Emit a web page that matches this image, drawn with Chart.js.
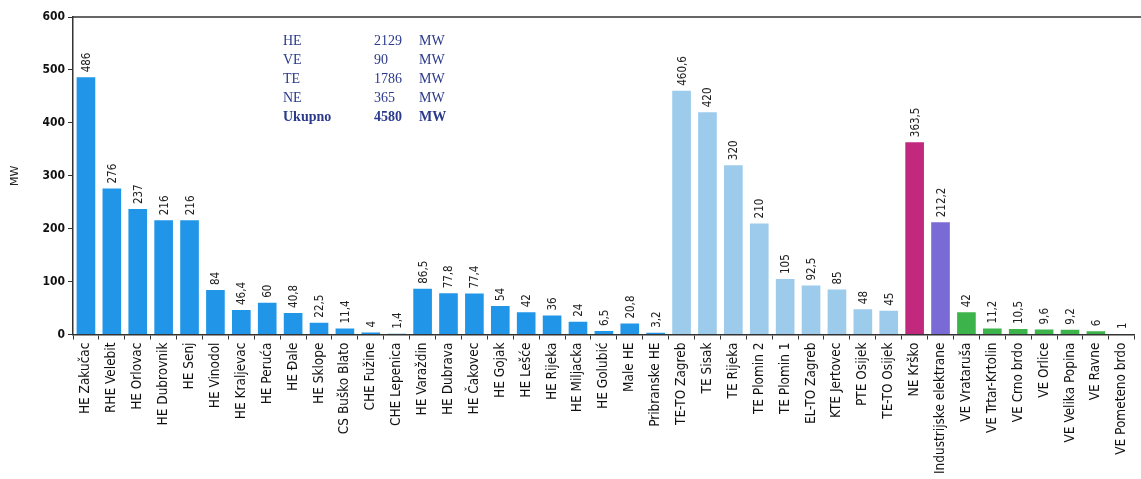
<!DOCTYPE html>
<html>
<head>
<meta charset="utf-8">
<script src="https://cdn.jsdelivr.net/npm/chart.js@4"></script>
<style>
  html, body { margin: 0; padding: 0; background: #fff; }
  #wrap { width: 1141px; height: 479px; }
</style>
</head>
<body>
<div id="wrap"><canvas id="mwChart"></canvas></div>
<script>
// plant names, installed power (MW), plant type
const plants = [
  'HE Zakučac', 'RHE Velebit', 'HE Orlovac', 'HE Dubrovnik', 'HE Senj', 'HE Vinodol',
  'HE Kraljevac', 'HE Peruća', 'HE Đale', 'HE Sklope', 'CS Buško Blato', 'CHE Fužine',
  'CHE Lepenica', 'HE Varaždin', 'HE Dubrava', 'HE Čakovec', 'HE Gojak', 'HE Lešće',
  'HE Rijeka', 'HE Miljacka', 'HE Golubić', 'Male HE', 'Pribranske HE', 'TE-TO Zagreb',
  'TE Sisak', 'TE Rijeka', 'TE Plomin 2', 'TE Plomin 1', 'EL-TO Zagreb', 'KTE Jertovec',
  'PTE Osijek', 'TE-TO Osijek', 'NE Krško', 'Industrijske elektrane', 'VE Vrataruša',
  'VE Trtar-Krtolin', 'VE Crno brdo', 'VE Orlice', 'VE Velika Popina', 'VE Ravne',
  'VE Pometeno brdo'
];
const power = [
  486, 276, 237, 216, 216, 84,
  46.4, 60, 40.8, 22.5, 11.4, 4,
  1.4, 86.5, 77.8, 77.4, 54, 42,
  36, 24, 6.5, 20.8, 3.2, 460.6,
  420, 320, 210, 105, 92.5, 85,
  48, 45, 363.5, 212.2, 42,
  11.2, 10.5, 9.6, 9.2, 6,
  1
];
const plantType = [
  'HE', 'HE', 'HE', 'HE', 'HE', 'HE',
  'HE', 'HE', 'HE', 'HE', 'HE', 'HE',
  'HE', 'HE', 'HE', 'HE', 'HE', 'HE',
  'HE', 'HE', 'HE', 'HE', 'HE', 'TE',
  'TE', 'TE', 'TE', 'TE', 'TE', 'TE',
  'TE', 'TE', 'NE', 'IE', 'VE',
  'VE', 'VE', 'VE', 'VE', 'VE',
  'VE'
];

// summary box
const summaryTypes = ['HE', 'VE', 'TE', 'NE', 'Ukupno'];
const summaryValues = [2129, 90, 1786, 365, 4580];

const yTicks = [0, 100, 200, 300, 400, 500, 600];

const typeColors = {
  HE: '#2196e8',
  TE: '#9ccbec',
  NE: '#c2297e',
  IE: '#7a6ad6',
  VE: '#3cb44b'
};

const fmt = v => String(v).replace('.', ',');

// value labels, rotated, above each bar
const barLabels = {
  id: 'barLabels',
  afterDatasetsDraw(chart) {
    const { ctx } = chart;
    const meta = chart.getDatasetMeta(0);
    ctx.save();
    ctx.font = '11.5px "DejaVu Sans Condensed", "DejaVu Sans", sans-serif';
    ctx.fillStyle = '#222';
    ctx.textAlign = 'left';
    ctx.textBaseline = 'middle';
    meta.data.forEach((bar, i) => {
      ctx.save();
      ctx.translate(bar.x + 1, bar.y - 5);
      ctx.rotate(-Math.PI / 2);
      ctx.fillText(fmt(power[i]), 0, 0);
      ctx.restore();
    });
    ctx.restore();
  }
};

// top frame line + summary text block
const frameAndSummary = {
  id: 'frameAndSummary',
  afterDraw(chart) {
    const { ctx, chartArea } = chart;
    ctx.save();
    ctx.strokeStyle = '#333';
    ctx.lineWidth = 1.5;
    ctx.beginPath();
    ctx.moveTo(chartArea.left, chartArea.top);
    ctx.lineTo(chart.width, chartArea.top);
    ctx.stroke();

    ctx.fillStyle = '#2b3a8c';
    ctx.textBaseline = 'middle';
    summaryTypes.forEach((t, i) => {
      const y = 41 + i * 19;
      const bold = i === summaryTypes.length - 1;
      ctx.font = (bold ? 'bold ' : '') + '14px "Liberation Serif", serif';
      ctx.textAlign = 'left';
      ctx.fillText(t, 283, y);
      ctx.fillText(String(summaryValues[i]), 374, y);
      ctx.fillText('MW', 419, y);
    });
    ctx.restore();
  }
};

new Chart(document.getElementById('mwChart'), {
  type: 'bar',
  data: {
    labels: plants,
    datasets: [{
      data: power,
      backgroundColor: plantType.map(t => typeColors[t]),
      borderWidth: 0,
      barPercentage: 0.72,
      categoryPercentage: 1
    }]
  },
  options: {
    responsive: true,
    maintainAspectRatio: false,
    animation: false,
    layout: { padding: { top: 17, right: 0, left: 0, bottom: 2 } },
    plugins: {
      legend: { display: false },
      tooltip: { enabled: false }
    },
    scales: {
      x: {
        offset: true,
        grid: { display: true, drawOnChartArea: false, tickLength: 5, color: '#333', offset: true },
        border: { color: '#333', width: 1.5 },
        ticks: {
          autoSkip: false,
          maxRotation: 90,
          minRotation: 90,
          color: '#111',
          padding: 3,
          font: { family: '"DejaVu Sans Condensed", "DejaVu Sans", sans-serif', size: 13.5 }
        }
      },
      y: {
        min: 0,
        max: 600,
        afterBuildTicks: axis => { axis.ticks = yTicks.map(v => ({ value: v })); },
        afterFit: axis => { axis.width = 73; },
        grid: { display: true, drawOnChartArea: false, tickLength: 5, color: '#333' },
        border: { color: '#333', width: 1.5 },
        ticks: {
          color: '#111',
          padding: 3,
          font: { family: '"DejaVu Sans Condensed", "DejaVu Sans", sans-serif', size: 12, weight: 'bold' }
        },
        title: {
          display: true,
          text: 'MW',
          color: '#222',
          padding: { top: 9, bottom: 0 },
          font: { family: '"DejaVu Sans", sans-serif', size: 11 }
        }
      }
    }
  },
  plugins: [barLabels, frameAndSummary]
});
</script>
</body>
</html>
